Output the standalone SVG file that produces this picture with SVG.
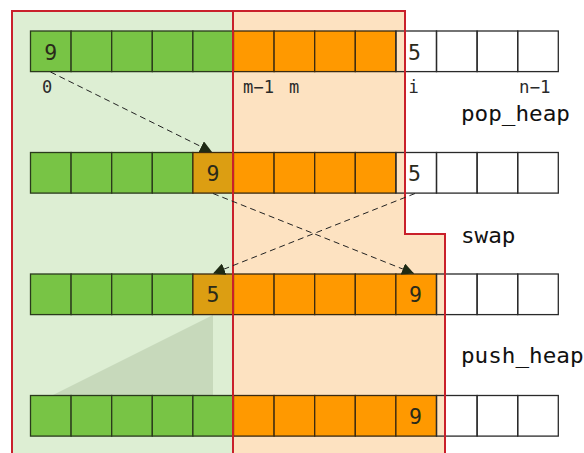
<svg xmlns="http://www.w3.org/2000/svg" width="584" height="453" viewBox="0 0 584 453">
<defs>
<style>
.g{fill:#78c445;stroke:#2a3a1c;stroke-width:1.3}
.o{fill:#ff9900;stroke:#3a2a10;stroke-width:1.3}
.d{fill:#dc9e12;stroke:#3a2a10;stroke-width:1.3}
.e{fill:none;stroke:#2a2a2a;stroke-width:1.3}
.num{font-family:"DejaVu Sans Mono","Liberation Mono",monospace;font-size:21.5px;fill:#2a2a1a}
.idx{font-family:"DejaVu Sans Mono","Liberation Mono",monospace;font-size:17px;fill:#2a2a2a}
.op{font-family:"DejaVu Sans Mono","Liberation Mono",monospace;font-size:21.5px;fill:#111}
.red{fill:none;stroke:#c9202b;stroke-width:2}
.dash{fill:none;stroke:#222;stroke-width:1;stroke-dasharray:6,4}
</style>
<marker id="ah" viewBox="0 0 10 10" refX="10" refY="5" markerWidth="12" markerHeight="12" markerUnits="userSpaceOnUse" orient="auto">
<path d="M0,0 L10,5 L0,10 Z" fill="#1e2a14"/>
</marker>
</defs>

<g id="regions-bg">
<rect x="12" y="11" width="221" height="450" fill="#ddeed3"/>
<path d="M233,11 H405 V234 H445 V461 H233 Z" fill="#fde2c1"/>
<path d="M52,395.5 L213,315 L213,395.5 Z" fill="#c7d9bb"/>
</g>

<g id="row1">
<rect class="g" x="30.5" y="31" width="40.6" height="40.6"/>
<rect class="g" x="71.1" y="31" width="40.6" height="40.6"/>
<rect class="g" x="111.7" y="31" width="40.6" height="40.6"/>
<rect class="g" x="152.3" y="31" width="40.6" height="40.6"/>
<rect class="g" x="192.9" y="31" width="40.6" height="40.6"/>
<rect class="o" x="233.5" y="31" width="40.6" height="40.6"/>
<rect class="o" x="274.1" y="31" width="40.6" height="40.6"/>
<rect class="o" x="314.7" y="31" width="40.6" height="40.6"/>
<rect class="o" x="355.3" y="31" width="40.6" height="40.6"/>
<rect class="e" x="395.9" y="31" width="40.6" height="40.6"/>
<rect class="e" x="436.5" y="31" width="40.6" height="40.6"/>
<rect class="e" x="477.1" y="31" width="40.6" height="40.6"/>
<rect class="e" x="517.7" y="31" width="40.6" height="40.6"/>
<text class="num" x="50.8" y="60" text-anchor="middle">9</text>
<text class="num" x="408" y="60">5</text>
</g>

<g id="row2">
<rect class="g" x="30.5" y="152.5" width="40.6" height="40.6"/>
<rect class="g" x="71.1" y="152.5" width="40.6" height="40.6"/>
<rect class="g" x="111.7" y="152.5" width="40.6" height="40.6"/>
<rect class="g" x="152.3" y="152.5" width="40.6" height="40.6"/>
<rect class="d" x="192.9" y="152.5" width="40.6" height="40.6"/>
<rect class="o" x="233.5" y="152.5" width="40.6" height="40.6"/>
<rect class="o" x="274.1" y="152.5" width="40.6" height="40.6"/>
<rect class="o" x="314.7" y="152.5" width="40.6" height="40.6"/>
<rect class="o" x="355.3" y="152.5" width="40.6" height="40.6"/>
<rect class="e" x="395.9" y="152.5" width="40.6" height="40.6"/>
<rect class="e" x="436.5" y="152.5" width="40.6" height="40.6"/>
<rect class="e" x="477.1" y="152.5" width="40.6" height="40.6"/>
<rect class="e" x="517.7" y="152.5" width="40.6" height="40.6"/>
<text class="num" x="213" y="180.7" text-anchor="middle">9</text>
<text class="num" x="408" y="180.7">5</text>
</g>

<g id="row3">
<rect class="g" x="30.5" y="274" width="40.6" height="40.6"/>
<rect class="g" x="71.1" y="274" width="40.6" height="40.6"/>
<rect class="g" x="111.7" y="274" width="40.6" height="40.6"/>
<rect class="g" x="152.3" y="274" width="40.6" height="40.6"/>
<rect class="d" x="192.9" y="274" width="40.6" height="40.6"/>
<rect class="o" x="233.5" y="274" width="40.6" height="40.6"/>
<rect class="o" x="274.1" y="274" width="40.6" height="40.6"/>
<rect class="o" x="314.7" y="274" width="40.6" height="40.6"/>
<rect class="o" x="355.3" y="274" width="40.6" height="40.6"/>
<rect class="o" x="395.9" y="274" width="40.6" height="40.6"/>
<rect class="e" x="436.5" y="274" width="40.6" height="40.6"/>
<rect class="e" x="477.1" y="274" width="40.6" height="40.6"/>
<rect class="e" x="517.7" y="274" width="40.6" height="40.6"/>
<text class="num" x="213" y="302.3" text-anchor="middle">5</text>
<text class="num" x="415.5" y="302.3" text-anchor="middle">9</text>
</g>

<g id="row4">
<rect class="g" x="30.5" y="395.5" width="40.6" height="40.6"/>
<rect class="g" x="71.1" y="395.5" width="40.6" height="40.6"/>
<rect class="g" x="111.7" y="395.5" width="40.6" height="40.6"/>
<rect class="g" x="152.3" y="395.5" width="40.6" height="40.6"/>
<rect class="g" x="192.9" y="395.5" width="40.6" height="40.6"/>
<rect class="o" x="233.5" y="395.5" width="40.6" height="40.6"/>
<rect class="o" x="274.1" y="395.5" width="40.6" height="40.6"/>
<rect class="o" x="314.7" y="395.5" width="40.6" height="40.6"/>
<rect class="o" x="355.3" y="395.5" width="40.6" height="40.6"/>
<rect class="o" x="395.9" y="395.5" width="40.6" height="40.6"/>
<rect class="e" x="436.5" y="395.5" width="40.6" height="40.6"/>
<rect class="e" x="477.1" y="395.5" width="40.6" height="40.6"/>
<rect class="e" x="517.7" y="395.5" width="40.6" height="40.6"/>
<text class="num" x="415.5" y="424" text-anchor="middle">9</text>
</g>

<g id="regions-outline">
<path class="red" d="M12,461 V11 H405 V234 H445 V461"/>
<path class="red" d="M233,11 V461"/>
</g>

<g id="connectors">
<path class="dash" d="M50.5,72 L212,152" marker-end="url(#ah)"/>
<path class="dash" d="M213,193.5 L414,273.5" marker-end="url(#ah)"/>
<path class="dash" d="M415,193.5 L213,273.5" marker-end="url(#ah)"/>
</g>

<g id="labels">
<text class="idx" x="42" y="92.7">0</text>
<text class="idx" x="243" y="92.7" textLength="31" lengthAdjust="spacingAndGlyphs">m−1</text>
<text class="idx" x="289" y="92.7">m</text>
<text class="idx" x="408.5" y="92.7">i</text>
<text class="idx" x="519" y="92.7" textLength="31.5" lengthAdjust="spacingAndGlyphs">n−1</text>
<text class="op" x="461" y="121" textLength="109" lengthAdjust="spacingAndGlyphs">pop_heap</text>
<text class="op" x="461" y="242.5" textLength="54.5" lengthAdjust="spacingAndGlyphs">swap</text>
<text class="op" x="461" y="363.3" textLength="122.5" lengthAdjust="spacingAndGlyphs">push_heap</text>
</g>
</svg>
